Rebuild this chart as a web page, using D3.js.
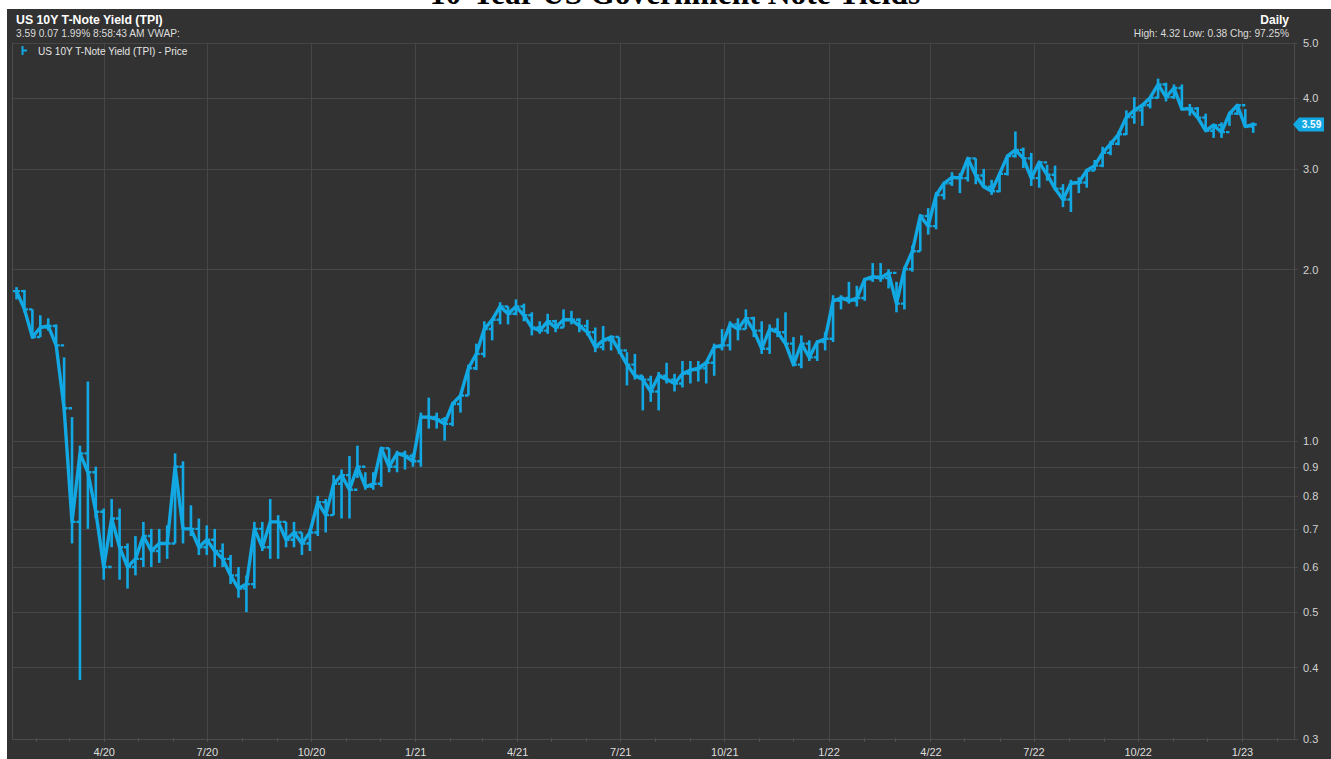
<!DOCTYPE html>
<html>
<head>
<meta charset="utf-8">
<script src="https://cdn.jsdelivr.net/npm/d3@7"></script>
<style>
  html, body { margin: 0; padding: 0; background: #ffffff; }
  svg { display: block; font-family: "Liberation Sans", Arial, sans-serif; }
</style>
</head>
<body>
<svg id="chart" width="1331" height="759"></svg>
<script>
// ---- text ----
const chartTitle = "10-Year US Government Note Yields";
const seriesName = "US 10Y T-Note Yield (TPI)";
const quoteLine = "3.59 0.07 1.99% 8:58:43 AM VWAP:";
const periodLabel = "Daily";
const statsLine = "High: 4.32 Low: 0.38 Chg: 97.25%";
const legendLabel = "US 10Y T-Note Yield (TPI) - Price";
const lastPrice = 3.59;

// ---- axes ----
const yTicks = [0.3, 0.4, 0.5, 0.6, 0.7, 0.8, 0.9, 1.0, 2.0, 3.0, 4.0, 5.0];
const xTickDates = ["2020-04-01", "2020-07-01", "2020-10-01", "2021-01-01", "2021-04-01",
  "2021-07-01", "2021-10-01", "2022-01-01", "2022-04-01", "2022-07-01", "2022-10-01", "2023-01-01"];

// ---- weekly bars (Monday of each week, Jan 13 2020 .. Jan 9 2023) ----
const firstWeek = "2020-01-13";
const lastWeek = "2023-01-09";

const highs = [
  1.86, 1.84, 1.70, 1.66, 1.64, 1.60, 1.40, 1.10, 0.98, 1.27,
  0.90, 0.76, 0.79, 0.76, 0.66, 0.68, 0.72, 0.70, 0.70, 0.71,
  0.95, 0.92, 0.77, 0.73, 0.71, 0.70, 0.66, 0.63, 0.60, 0.58,
  0.72, 0.72, 0.79, 0.74, 0.72, 0.72, 0.69, 0.70, 0.80, 0.79,
  0.87, 0.89, 0.94, 0.98, 0.88, 0.88, 0.97, 0.97, 0.96, 0.96,
  0.95, 1.12, 1.19, 1.12, 1.10, 1.17, 1.20, 1.36, 1.48, 1.62,
  1.64, 1.75, 1.72, 1.77, 1.74, 1.68, 1.62, 1.67, 1.63, 1.70,
  1.69, 1.64, 1.63, 1.58, 1.59, 1.53, 1.52, 1.43, 1.42, 1.30,
  1.30, 1.32, 1.37, 1.31, 1.38, 1.38, 1.38, 1.38, 1.48, 1.57,
  1.62, 1.64, 1.70, 1.65, 1.62, 1.60, 1.64, 1.68, 1.52, 1.53,
  1.50, 1.50, 1.55, 1.80, 1.80, 1.90, 1.87, 1.93, 2.05, 2.05,
  2.00, 1.90, 2.02, 2.20, 2.50, 2.56, 2.73, 2.85, 2.96, 2.95,
  3.14, 3.13, 3.00, 2.87, 2.96, 3.18, 3.49, 3.27, 3.20, 3.10,
  3.05, 3.04, 2.82, 2.87, 2.90, 3.00, 3.11, 3.28, 3.36, 3.49,
  3.80, 4.01, 3.90, 4.00, 4.32, 4.25, 4.22, 4.22, 3.90, 3.85,
  3.75, 3.60, 3.62, 3.78, 3.90, 3.82, 3.62
];

const lows = [
  1.77, 1.68, 1.51, 1.52, 1.56, 1.46, 1.12, 0.66, 0.38, 0.70,
  0.73, 0.57, 0.65, 0.57, 0.55, 0.58, 0.60, 0.60, 0.61, 0.62,
  0.66, 0.66, 0.68, 0.63, 0.63, 0.60, 0.60, 0.56, 0.53, 0.50,
  0.55, 0.64, 0.62, 0.62, 0.65, 0.65, 0.63, 0.64, 0.68, 0.69,
  0.74, 0.73, 0.73, 0.86, 0.82, 0.82, 0.83, 0.88, 0.88, 0.89,
  0.90, 0.90, 1.05, 1.05, 1.00, 1.06, 1.12, 1.20, 1.33, 1.40,
  1.50, 1.60, 1.60, 1.66, 1.62, 1.53, 1.54, 1.54, 1.55, 1.58,
  1.60, 1.55, 1.53, 1.43, 1.44, 1.44, 1.42, 1.25, 1.28, 1.13,
  1.17, 1.13, 1.26, 1.22, 1.24, 1.26, 1.27, 1.26, 1.30, 1.44,
  1.44, 1.50, 1.57, 1.52, 1.42, 1.42, 1.52, 1.47, 1.35, 1.34,
  1.38, 1.38, 1.44, 1.49, 1.70, 1.74, 1.72, 1.76, 1.90, 1.90,
  1.85, 1.68, 1.70, 1.98, 2.15, 2.30, 2.35, 2.65, 2.80, 2.72,
  2.85, 2.82, 2.78, 2.70, 2.73, 2.92, 3.14, 3.01, 2.80, 2.78,
  2.86, 2.75, 2.57, 2.52, 2.72, 2.78, 2.98, 3.02, 3.17, 3.30,
  3.44, 3.60, 3.57, 3.83, 3.99, 3.94, 3.98, 3.80, 3.72, 3.67,
  3.50, 3.40, 3.40, 3.57, 3.73, 3.55, 3.47
];

const closes = [
  1.83, 1.70, 1.52, 1.58, 1.59, 1.47, 1.14, 0.72, 0.95, 0.88,
  0.75, 0.60, 0.73, 0.65, 0.60, 0.62, 0.68, 0.64, 0.66, 0.66,
  0.90, 0.70, 0.70, 0.65, 0.67, 0.64, 0.62, 0.58, 0.55, 0.56,
  0.70, 0.65, 0.72, 0.72, 0.67, 0.69, 0.66, 0.69, 0.78, 0.74,
  0.84, 0.87, 0.82, 0.90, 0.83, 0.84, 0.97, 0.90, 0.95, 0.94,
  0.92, 1.10, 1.10, 1.09, 1.07, 1.16, 1.20, 1.34, 1.42, 1.57,
  1.63, 1.72, 1.67, 1.72, 1.66, 1.58, 1.56, 1.62, 1.58, 1.63,
  1.63, 1.59, 1.55, 1.46, 1.50, 1.52, 1.44, 1.36, 1.30, 1.28,
  1.22, 1.30, 1.28, 1.26, 1.31, 1.33, 1.34, 1.37, 1.46, 1.47,
  1.60, 1.57, 1.64, 1.56, 1.45, 1.57, 1.55, 1.48, 1.36, 1.48,
  1.40, 1.49, 1.51, 1.76, 1.78, 1.76, 1.78, 1.92, 1.94, 1.93,
  1.97, 1.74, 2.00, 2.15, 2.48, 2.38, 2.70, 2.83, 2.90, 2.89,
  3.13, 2.92, 2.79, 2.74, 2.94, 3.16, 3.24, 3.13, 2.89, 3.08,
  2.93, 2.77, 2.65, 2.83, 2.84, 2.98, 3.04, 3.20, 3.32, 3.45,
  3.70, 3.80, 3.88, 4.00, 4.22, 4.01, 4.16, 3.82, 3.83, 3.69,
  3.50, 3.58, 3.48, 3.75, 3.88, 3.56, 3.59
];

// ---- colours ----
const bgPanel = "#323232";
const gridColor = "#464646";
const frameColor = "#4c4c4c";
const lineColor = "#12a8e3";

const svg = d3.select("#chart");
const parse = d3.utcParse("%Y-%m-%d");

const plot = { left: 12, right: 1294, top: 42.5, bottom: 738.5 };

const x = d3.scaleUtc()
  .domain([parse("2020-01-11"), parse("2023-02-16")])
  .range([plot.left, plot.right]);

const y = d3.scaleLog()
  .domain([0.3, 5])
  .range([plot.bottom, plot.top]);

// dark panel
svg.append("rect")
  .attr("x", 7).attr("y", 9)
  .attr("width", 1331 - 7).attr("height", 759 - 9)
  .attr("fill", bgPanel);

// title (serif, sits mostly above the panel)
svg.append("text")
  .attr("x", 675).attr("y", 4)
  .attr("text-anchor", "middle")
  .attr("font-family", "'Liberation Serif', 'Times New Roman', serif")
  .attr("font-weight", "bold")
  .attr("font-size", 31.5)
  .attr("fill", "#000")
  .text(chartTitle);

// horizontal grid + y labels (right-hand axis)
const yAxis = d3.axisRight(y)
  .tickValues(yTicks)
  .tickFormat(d3.format(".1f"))
  .tickSize(-(plot.right - plot.left))
  .tickPadding(0);

const gy = svg.append("g")
  .attr("transform", `translate(${plot.right},0)`)
  .call(yAxis);
gy.select(".domain").remove();
gy.selectAll(".tick line")
  .attr("x2", 4)
  .attr("x1", -(plot.right - plot.left))
  .attr("stroke", gridColor)
  .attr("stroke-width", 1)
  .attr("shape-rendering", "crispEdges");
gy.selectAll(".tick text")
  .attr("x", 9)
  .attr("dy", "0.35em")
  .attr("fill", "#d2d2d2")
  .attr("font-size", 11)
  .attr("font-family", "'Liberation Sans', Arial, sans-serif");

// vertical grid at quarter starts + x labels
const xDates = xTickDates.map(parse);
const xAxis = d3.axisBottom(x)
  .tickValues(xDates)
  .tickFormat(d3.utcFormat("%-m/%y"))
  .tickSize(0)
  .tickPadding(0);

const gx = svg.append("g")
  .attr("transform", `translate(0,${plot.bottom})`)
  .call(xAxis);
gx.select(".domain").remove();
gx.selectAll(".tick line").remove();
gx.selectAll(".tick text")
  .attr("y", 17)
  .attr("dy", 0)
  .attr("fill", "#dedede")
  .attr("font-size", 11)
  .attr("font-family", "'Liberation Sans', Arial, sans-serif");

svg.append("g")
  .selectAll("line")
  .data(xDates)
  .join("line")
  .attr("x1", d => Math.round(x(d)) + 0.5)
  .attr("x2", d => Math.round(x(d)) + 0.5)
  .attr("y1", plot.top)
  .attr("y2", plot.bottom)
  .attr("stroke", gridColor)
  .attr("stroke-width", 1);

// monthly minor ticks under the time axis
const months = d3.utcMonth.range(x.domain()[0], x.domain()[1]);
svg.append("g")
  .selectAll("line")
  .data(months)
  .join("line")
  .attr("x1", d => Math.round(x(d)) + 0.5)
  .attr("x2", d => Math.round(x(d)) + 0.5)
  .attr("y1", plot.bottom)
  .attr("y2", plot.bottom + 3)
  .attr("stroke", "#5a5a5a")
  .attr("stroke-width", 1);

// plot frame: left, right and bottom edges
const frame = svg.append("g")
  .attr("stroke", frameColor)
  .attr("stroke-width", 1)
  .attr("fill", "none");
frame.append("line")
  .attr("x1", plot.left + 0.5).attr("x2", plot.left + 0.5)
  .attr("y1", plot.top).attr("y2", plot.bottom);
frame.append("line")
  .attr("x1", plot.right + 0.5).attr("x2", plot.right + 0.5)
  .attr("y1", plot.top).attr("y2", plot.bottom);
frame.append("line")
  .attr("x1", plot.left).attr("x2", plot.right + 4)
  .attr("y1", Math.round(plot.bottom) + 0.5).attr("y2", Math.round(plot.bottom) + 0.5);

// ---- price series ----
const weeks = d3.utcMonday.range(parse(firstWeek), d3.utcDay.offset(parse(lastWeek), 1));
const bars = weeks.map((w, i) => ({
  date: d3.utcDay.offset(w, 2),
  high: highs[i],
  low: lows[i],
  close: closes[i],
  open: i > 0 ? closes[i - 1] : closes[0]
}));

const series = svg.append("g");

// high-low range of each week
series.selectAll("line.range")
  .data(bars)
  .join("line")
  .attr("class", "range")
  .attr("x1", d => x(d.date))
  .attr("x2", d => x(d.date))
  .attr("y1", d => y(d.low))
  .attr("y2", d => y(d.high))
  .attr("stroke", lineColor)
  .attr("stroke-width", 2.6);

// open / close ticks of each bar
series.selectAll("path.ticks")
  .data(bars)
  .join("path")
  .attr("class", "ticks")
  .attr("d", d => {
    const cx = x(d.date);
    return `M${cx - 3.5},${y(d.open)}H${cx}M${cx},${y(d.close)}H${cx + 3.5}`;
  })
  .attr("stroke", lineColor)
  .attr("stroke-width", 2.4)
  .attr("fill", "none");

// weekly close path
series.append("path")
  .datum(bars)
  .attr("fill", "none")
  .attr("stroke", lineColor)
  .attr("stroke-width", 3.4)
  .attr("stroke-linejoin", "round")
  .attr("d", d3.line().x(d => x(d.date)).y(d => y(d.close)));

// last-price tag on the value axis
const tagY = y(lastPrice);
const tag = svg.append("g").attr("transform", `translate(0,${tagY})`);
tag.append("path")
  .attr("d", "M1293,0 L1299,-7 L1324,-7 L1324,7 L1299,7 Z")
  .attr("fill", lineColor);
tag.append("text")
  .attr("x", 1311.5).attr("y", 3.6)
  .attr("text-anchor", "middle")
  .attr("font-size", 10)
  .attr("font-weight", "bold")
  .attr("fill", "#f2f9ff")
  .text(d3.format(".2f")(lastPrice));

// ---- header ----
svg.append("text")
  .attr("x", 16).attr("y", 24)
  .attr("font-size", 12.3)
  .attr("font-weight", "bold")
  .attr("fill", "#ffffff")
  .text(seriesName);

svg.append("text")
  .attr("x", 16).attr("y", 37)
  .attr("font-size", 10.2)
  .attr("fill", "#dcdcdc")
  .text(quoteLine);

svg.append("text")
  .attr("x", 1289).attr("y", 24)
  .attr("text-anchor", "end")
  .attr("font-size", 12)
  .attr("font-weight", "bold")
  .attr("fill", "#ffffff")
  .text(periodLabel);

svg.append("text")
  .attr("x", 1289).attr("y", 37)
  .attr("text-anchor", "end")
  .attr("font-size", 10.2)
  .attr("fill", "#dcdcdc")
  .text(statsLine);

// legend entry with a bar glyph
const legend = svg.append("g");
legend.append("path")
  .attr("d", "M22.5,46 V55 M22.5,50.5 H27")
  .attr("stroke", lineColor)
  .attr("stroke-width", 2)
  .attr("fill", "none");
legend.append("text")
  .attr("x", 38).attr("y", 54.5)
  .attr("font-size", 10.1)
  .attr("fill", "#e4e4e4")
  .text(legendLabel);
</script>
</body>
</html>
